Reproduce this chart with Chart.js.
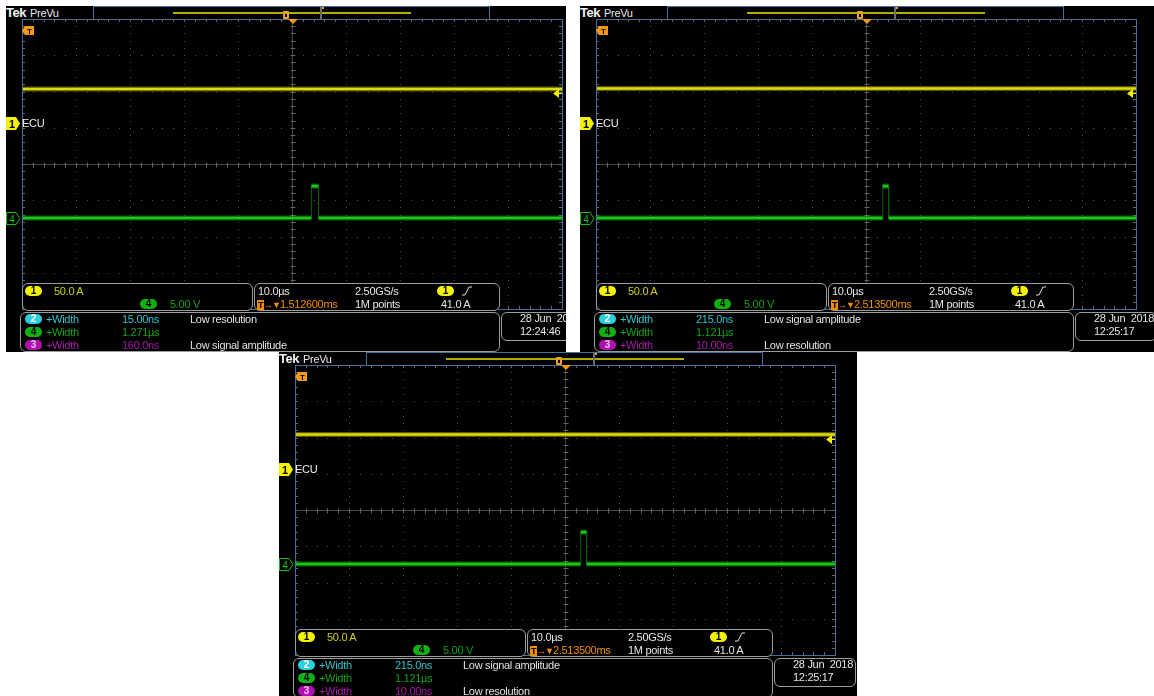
<!DOCTYPE html>
<html>
<head>
<meta charset="utf-8">
<script src="https://cdn.jsdelivr.net/npm/chart.js@4/dist/chart.umd.min.js"></script>
<style>
body{margin:0;width:1154px;height:696px;background:#fff;position:relative;overflow:hidden;font-family:"Liberation Sans",Arial,sans-serif;font-size:11px;color:#e4e4e4}
.shot{position:absolute;background:#000;overflow:hidden}
.t{position:absolute;white-space:nowrap;line-height:12px;height:12px;font-size:11px;letter-spacing:-0.3px}
.oval{position:absolute;width:17px;height:10px;border-radius:5px;text-align:center;font-weight:bold;font-size:10px;line-height:10px}
.box{position:absolute;border:1px solid #9c9c9c;border-radius:6px;box-sizing:border-box;background:#000}
.plotborder{position:absolute;left:16px;top:13px;width:541px;height:291px;box-sizing:border-box;border:1px solid #46709a;pointer-events:none}
canvas{position:absolute;left:16px;top:13px}
.tbox{display:inline-block;background:#f08c00;color:#000;font-weight:bold;font-size:9px;line-height:10px;width:7px;text-align:center}
.arr{font-size:9px;letter-spacing:-1px}
</style>
</head>
<body>
<script>
// 时间轴（µs），屏幕中心为触发点，10 格 × 10.0µs
const timeMin = -50;
const timeMax = 50;

// 通道1 电流（A）
const currentTimes = [-50, 50];
const currentA_1 = [47, 47];
const currentA_2 = [47.5, 47.5];
const currentA_3 = [47.5, 47.5];

// 通道4 脉冲（V）
const pulseT_1 = [-50, 3.6, 3.6, 4.9, 4.9, 50];
const pulseV_1 = [0, 0, 4.4, 4.4, 0, 0];
const pulseT_2 = [-50, 3.1, 3.1, 4.2, 4.2, 50];
const pulseV_2 = [0, 0, 4.4, 4.4, 0, 0];
const pulseT_3 = [-50, 2.9, 2.9, 4.0, 4.0, 50];
const pulseV_3 = [0, 0, 4.4, 4.4, 0, 0];

// 垂直设置
const ch1PerDiv = 50;     // A/div
const ch1Offset = 1.13;   // 格，地线位置
const ch4PerDiv = 5;      // V/div
const ch4Offset = -1.49;
const trigLevel = 41;     // A

// 测量读数
const measChannels = ['2', '4', '3'];
const measValues_1 = ['15.00ns', '1.271µs', '160.0ns'];
const measNotes_1 = ['Low resolution', '', 'Low signal amplitude'];
const measValues_2 = ['215.0ns', '1.121µs', '10.00ns'];
const measNotes_2 = ['Low signal amplitude', '', 'Low resolution'];
const trigPositions = ['1.512600ms', '2.513500ms', '2.513500ms'];
const clockTimes = ['12:24:46', '12:25:17', '12:25:17'];

const ovalColors = {
    '1': ['#f2f200', '#000'],
    '2': ['#2cd0dc', '#fff'],
    '3': ['#b010b0', '#f0c0f0'],
    '4': ['#10b010', '#000']
};
const measTextColors = {'2': '#30c4cc', '4': '#14a414', '3': '#a818a8'};

// 网格（点状 + 中心十字）
const graticulePlugin = {
    id: 'graticule',
    beforeDatasetsDraw(chart) {
        const ctx = chart.ctx;
        const x = chart.scales.x;
        const d = chart.scales.div;
        const a = chart.chartArea;
        ctx.save();
        ctx.fillStyle = '#505050';
        for (let i = 1; i < 10; i++) {
            const px = Math.round(x.getPixelForValue(timeMin + i * 10));
            for (let k = 0; k <= 40; k++) {
                ctx.fillRect(px, Math.round(d.getPixelForValue(-4 + k * 0.2)), 1, 1);
            }
        }
        for (let j = 1; j < 8; j++) {
            const py = Math.round(d.getPixelForValue(-4 + j));
            for (let k = 0; k <= 50; k++) {
                ctx.fillRect(Math.round(x.getPixelForValue(timeMin + k * 2)), py, 1, 1);
            }
        }
        // 中心线
        const cx = Math.round(x.getPixelForValue(0)) + 0.5;
        const cy = Math.round(d.getPixelForValue(0)) + 0.5;
        ctx.strokeStyle = '#4a4440';
        ctx.lineWidth = 1;
        ctx.beginPath();
        ctx.moveTo(a.left, cy); ctx.lineTo(a.right, cy);
        ctx.moveTo(cx, a.top); ctx.lineTo(cx, a.bottom);
        ctx.stroke();
        ctx.strokeStyle = '#6a6460';
        ctx.beginPath();
        for (let k = 0; k <= 50; k++) {
            const px = Math.round(x.getPixelForValue(timeMin + k * 2)) + 0.5;
            ctx.moveTo(px, cy - 2); ctx.lineTo(px, cy + 3);
            ctx.moveTo(px, a.top); ctx.lineTo(px, a.top + 3);
            ctx.moveTo(px, a.bottom - 3); ctx.lineTo(px, a.bottom);
        }
        for (let k = 0; k <= 40; k++) {
            const py = Math.round(d.getPixelForValue(-4 + k * 0.2)) + 0.5;
            ctx.moveTo(cx - 2, py); ctx.lineTo(cx + 3, py);
            ctx.moveTo(a.left, py); ctx.lineTo(a.left + 3, py);
            ctx.moveTo(a.right - 3, py); ctx.lineTo(a.right, py);
        }
        ctx.stroke();
        ctx.restore();
    }
};

function toPoints(xs, ys) {
    return xs.map(function(t, i) { return {x: t, y: ys[i]}; });
}

// 竖直边沿画得暗而细
function isEdge(ctx) {
    return ctx.p0.parsed.x === ctx.p1.parsed.x;
}

function oval(ch, left, top) {
    const c = ovalColors[ch];
    return `<div class="oval" style="left:${left}px;top:${top}px;background:${c[0]};color:${c[1]}">${ch}</div>`;
}

function buildShot(n, pos, amps, pulseT, pulseV, measValues, measNotes) {
    const el = document.createElement('div');
    el.className = 'shot';
    el.style.left = pos[0] + 'px';
    el.style.top = pos[1] + 'px';
    el.style.width = pos[2] + 'px';
    el.style.height = pos[3] + 'px';

    let meas = '';
    const rowTops = [307, 320, 333];
    measChannels.forEach(function(ch, i) {
        const col = measTextColors[ch];
        meas += oval(ch, 19, rowTops[i] + 1);
        meas += `<div class="t" style="left:40px;top:${rowTops[i]}px;color:${col}">+Width</div>`;
        meas += `<div class="t" style="left:116px;top:${rowTops[i]}px;color:${col}">${measValues[i]}</div>`;
        meas += `<div class="t" style="left:184px;top:${rowTops[i]}px;color:#e0e0e0">${measNotes[i]}</div>`;
    });

    el.innerHTML = `
        <div class="t" style="left:0;top:1px;font-weight:bold;font-size:13px;letter-spacing:-0.5px;color:#f4f4f4">Tek</div>
        <div class="t" style="left:24px;top:1px;color:#e8e8e8">PreVu</div>
        <div style="position:absolute;left:87px;top:0;width:397px;height:14px;box-sizing:border-box;border:1px solid #46709a"></div>
        <div style="position:absolute;left:167px;top:6px;width:238px;height:2px;background:#b0b000"></div>
        <div style="position:absolute;left:277px;top:5px;width:6px;height:8px;box-sizing:border-box;border:2px solid #f0a020;border-radius:1px"></div>
        <div style="position:absolute;left:314px;top:1px;width:2px;height:12px;background:#6a6a6a"></div>
        <div style="position:absolute;left:316px;top:1px;width:2px;height:2px;background:#f0a020"></div>
        <canvas width="540" height="290"></canvas>
        <div class="plotborder"></div>
        <svg style="position:absolute;left:282px;top:13px" width="10" height="6"><polygon points="0,0 10,0 5,5" fill="#f39a10"/></svg>
        <svg style="position:absolute;left:16px;top:20px" width="12" height="9"><polygon points="0,4.5 3,0 12,0 12,9 3,9" fill="#f39a10"/><text x="7.5" y="8" font-size="8" font-weight="bold" text-anchor="middle" fill="#000" font-family="Liberation Sans">T</text></svg>
        <svg class="m1" style="position:absolute;left:0" width="15" height="13"><polygon points="0,0 10,0 14,6.5 10,13 0,13" fill="#f2f200"/><text x="6" y="11" font-size="11" font-weight="bold" text-anchor="middle" fill="#000" font-family="Liberation Sans">1</text></svg>
        <div class="t m1t" style="left:16px;color:#f0f0f0">ECU</div>
        <svg class="m4" style="position:absolute;left:0" width="15" height="13"><polygon points="0.5,0.5 10,0.5 14,6.5 10,12.5 0.5,12.5" fill="#000" stroke="#18c018"/><text x="6" y="10.5" font-size="10" text-anchor="middle" fill="#18c018" font-family="Liberation Sans">4</text></svg>
        <svg class="tl" style="position:absolute;left:547px" width="9" height="9"><polygon points="0,4.5 6,0 6,9" fill="#f2f200"/><rect x="5" y="4" width="4" height="1" fill="#f2f200"/></svg>

        <div class="box" style="left:16px;top:277px;width:231px;height:28px"></div>
        ${oval('1', 19, 280)}
        <div class="t" style="left:48px;top:279px;color:#d0d000">50.0 A</div>
        ${oval('4', 134, 293)}
        <div class="t" style="left:164px;top:292px;color:#10a010">5.00 V</div>

        <div class="box" style="left:248px;top:277px;width:246px;height:28px"></div>
        <div class="t" style="left:252px;top:279px">10.0µs</div>
        <div class="t" style="left:349px;top:279px">2.50GS/s</div>
        ${oval('1', 431, 280)}
        <svg style="position:absolute;left:456px;top:280px" width="10" height="10"><polyline points="0,9 3,9 7,1 10,1" fill="none" stroke="#e0e0e0" stroke-width="1"/></svg>
        <div class="t" style="left:251px;top:292px;color:#f08c00"><span class="tbox">T</span><span class="arr">→▼</span>${trigPositions[n]}</div>
        <div class="t" style="left:349px;top:292px">1M points</div>
        <div class="t" style="left:435px;top:292px">41.0 A</div>

        <div class="box" style="left:14px;top:306px;width:480px;height:40px"></div>
        ${meas}

        <div class="box" style="left:495px;top:306px;width:82px;height:29px"></div>
        <div class="t" style="left:514px;top:306px">28 Jun&nbsp; 2018</div>
        <div class="t" style="left:514px;top:319px">${clockTimes[n]}</div>
    `;
    document.body.appendChild(el);

    const chart = new Chart(el.querySelector('canvas'), {
        type: 'line',
        data: {
            datasets: [
                {
                    data: toPoints(currentTimes, amps),
                    yAxisID: 'y1',
                    borderColor: 'rgba(200, 200, 0, 0.45)',
                    borderWidth: 5,
                    pointRadius: 0
                },
                {
                    data: toPoints(currentTimes, amps),
                    yAxisID: 'y1',
                    borderColor: '#ecec10',
                    borderWidth: 2.5,
                    pointRadius: 0
                },
                {
                    data: toPoints(pulseT, pulseV),
                    yAxisID: 'y4',
                    borderColor: 'rgba(20, 190, 20, 0.5)',
                    borderWidth: 5,
                    pointRadius: 0,
                    segment: {
                        borderColor: function(ctx) { return isEdge(ctx) ? 'rgba(0, 0, 0, 0)' : undefined; }
                    }
                },
                {
                    data: toPoints(pulseT, pulseV),
                    yAxisID: 'y4',
                    borderColor: '#1ed21e',
                    borderWidth: 2.5,
                    pointRadius: 0,
                    segment: {
                        borderColor: function(ctx) { return isEdge(ctx) ? '#0c5a0c' : undefined; },
                        borderWidth: function(ctx) { return isEdge(ctx) ? 1 : undefined; }
                    }
                }
            ]
        },
        options: {
            responsive: false,
            animation: false,
            layout: {padding: 0},
            plugins: {
                legend: {display: false},
                tooltip: {enabled: false}
            },
            scales: {
                x: {type: 'linear', axis: 'x', min: timeMin, max: timeMax, display: false},
                div: {type: 'linear', axis: 'y', min: -4, max: 4, display: false},
                y1: {
                    type: 'linear',
                    axis: 'y',
                    min: (-4 - ch1Offset) * ch1PerDiv,
                    max: (4 - ch1Offset) * ch1PerDiv,
                    display: false
                },
                y4: {
                    type: 'linear',
                    axis: 'y',
                    min: (-4 - ch4Offset) * ch4PerDiv,
                    max: (4 - ch4Offset) * ch4PerDiv,
                    display: false
                }
            }
        },
        plugins: [graticulePlugin]
    });

    // 通道标记按刻度放置
    const gnd1 = 13 + chart.scales.y1.getPixelForValue(0);
    const gnd4 = 13 + chart.scales.y4.getPixelForValue(0);
    const lvl = 13 + chart.scales.y1.getPixelForValue(trigLevel);
    el.querySelector('.m1').style.top = (gnd1 - 6.5) + 'px';
    el.querySelector('.m1t').style.top = (gnd1 - 6) + 'px';
    el.querySelector('.m4').style.top = (gnd4 - 6.5) + 'px';
    el.querySelector('.tl').style.top = (lvl - 4.5) + 'px';
}

buildShot(0, [6, 6, 560, 346], currentA_1, pulseT_1, pulseV_1, measValues_1, measNotes_1);
buildShot(1, [580, 6, 574, 346], currentA_2, pulseT_2, pulseV_2, measValues_2, measNotes_2);
buildShot(2, [279, 352, 578, 344], currentA_3, pulseT_3, pulseV_3, measValues_2, measNotes_2);
</script>
</body>
</html>
